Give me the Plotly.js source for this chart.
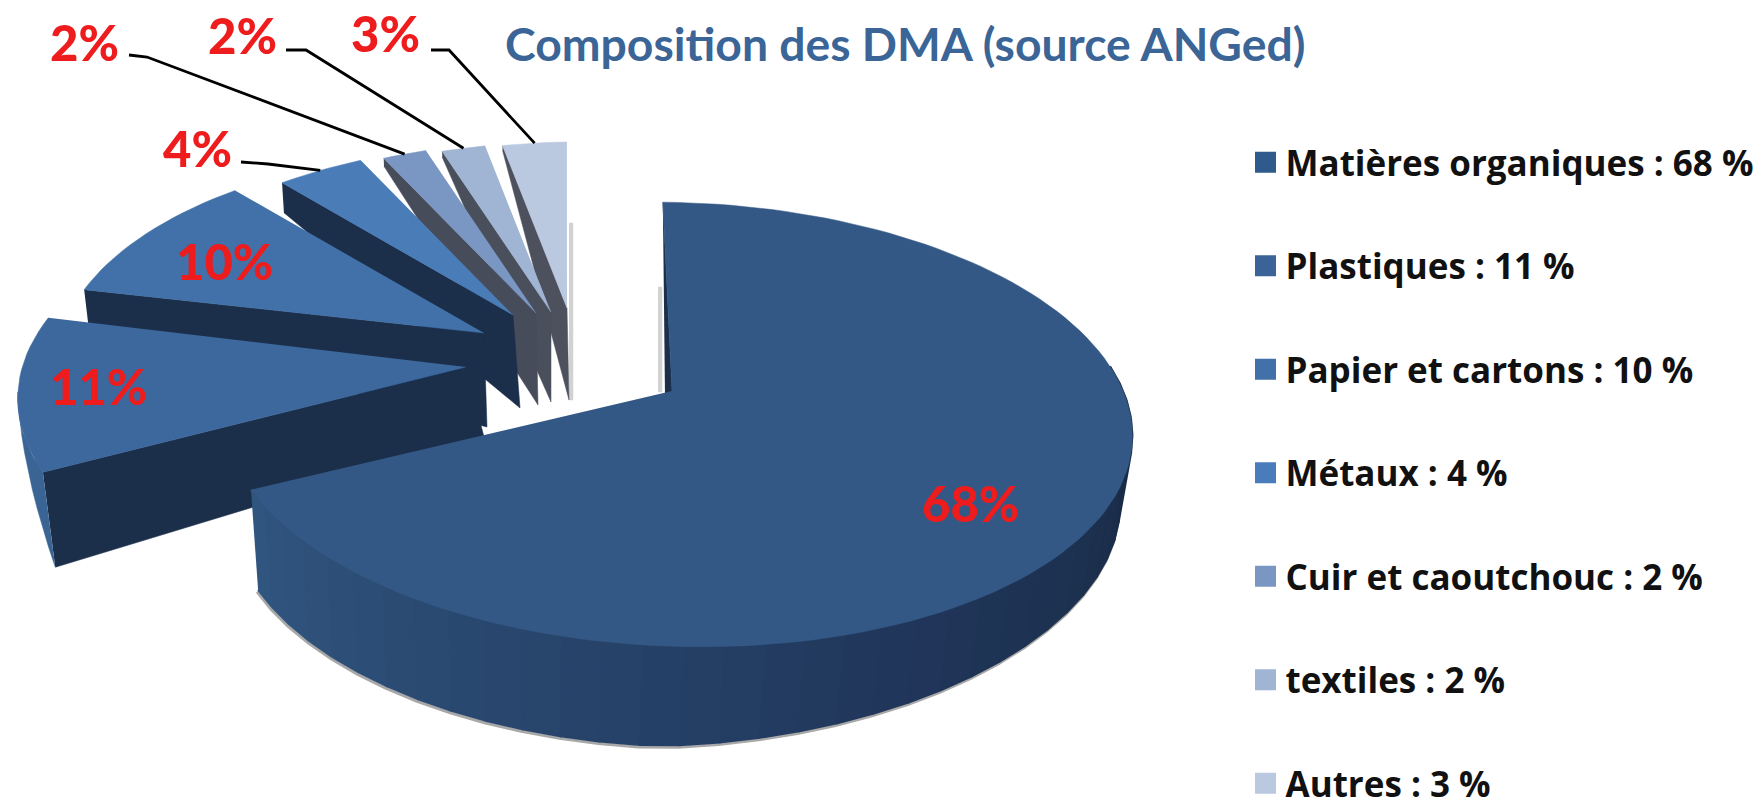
<!DOCTYPE html>
<html>
<head>
<meta charset="utf-8">
<script src="https://cdn.plot.ly/plotly-3.0.1.min.js"></script>
<style>html,body{margin:0;padding:0;background:#fff}#chart{width:1762px;height:800px}</style>
</head>
<body>
<div id="chart"></div>
<script>
// ---- data ----
const categories = ['Matières organiques', 'Plastiques', 'Papier et cartons', 'Métaux', 'Cuir et caoutchouc', 'textiles', 'Autres'];
const values = [68, 11, 10, 4, 2, 2, 3];
const faceColors = ['#345885', '#3c689d', '#4171a8', '#4a7cb8', '#7a97c3', '#a0b4d4', '#bac8e0'];
const legendColors = ['#2f5a8c', '#3a6398', '#4270a8', '#4a7cbc', '#7a97c3', '#a0b4d4', '#bac8e0'];
const wallColors = ['#1b2f4b', '#1b2f4b', '#1b2f4b', '#1b2f4b', '#474c5a', '#4a4f5c', '#4d515e'];
const titleText = 'Composition des DMA (source ANGed)';

// ---- presentation of the exploded 3D pie ----
const anchors = [[663,393],[466,367],[484,333],[513,315],[536,313],[551,312],[567,308]];
const scales = [1, 1.02, 0.97, 0.9, 0.9, 0.89, 0.87];
const tilts = [0, 1, 0, 0, 0, 0, 0];
const shears = [0.025, 0, 0, 0, 0, 0, 0];
const wallOuter = [0, 95, 35, 30, 8, 6, 5];
const wallInner = [[-7,4],[18,70],[3,94],[7,93],[2,92],[0,90],[2,92]];
const labelPos = [[970,503],[98,386],[224,261],[197,148],[84,42],[242,35],[385,33]];
const leaders = {3:[[241,162],[268,164]], 4:[[129,55],[147,57]], 5:[[286,50],[306,50]], 6:[[431,50],[449,50]]};
const startDeg = -2.2, k = 0.14, A = 217.7, Rx = 450, Cx = 678;

const rad = d => d * Math.PI / 180;
function proj(deg, i) {
  const X = Math.sin(rad(deg)), Y = Math.cos(rad(deg)), d = 1 + k * Y;
  const dx = Cx + Rx * X / d - 663, dy = -A * Y / d + shears[i] * (Cx + Rx * X / d - 663);
  return [anchors[i][0] + scales[i] * dx, anchors[i][1] + scales[i] * dy];
}
function extrude(p, t) { return [p[0] + t * (500 - p[0]) / 3500, p[1] + t]; }
function poly(pts, color, extra) {
  return Object.assign({
    type: 'scatter', mode: 'lines', x: pts.map(p => p[0]), y: pts.map(p => p[1]),
    fill: 'toself', fillcolor: color, line: {color: color, width: 0.5},
    hoverinfo: 'skip', showlegend: false
  }, extra || {});
}
function mix(a, b, f) {
  const h = s => [1,3,5].map(j => parseInt(s.substr(j,2),16));
  const ca = h(a), cb = h(b);
  return 'rgb(' + ca.map((c,j) => Math.round(c + (cb[j]-c)*f)).join(',') + ')';
}

// slice angles come from the values
const total = values.reduce((a,b) => a+b, 0);
let acc = startDeg;
const spans = values.map(v => { const s = acc; acc += v / total * 360; return [s, acc]; });
const arc = (i, a0, a1) => {
  const n = Math.max(4, Math.ceil(Math.abs(a1 - a0) / 2)), out = [];
  for (let j = 0; j <= n; j++) out.push(proj(a0 + (a1 - a0) * j / n + tilts[i], i));
  return out;
};

const traces = [];
// faint shadows behind the wedges
traces.push(poly([[569,223],[573,223],[573,400],[569,400]], '#d2d2d2'));
traces.push(poly([[658,287],[662,287],[662,392],[658,392]], '#d2d2d2'));

// wedges, drawn from the back to the front
for (let i = values.length - 1; i >= 0; i--) {
  const [s, e] = spans[i];
  const a = anchors[i];
  const corner = proj(s + tilts[i], i);
  if (i > 0) {
    const tOut = wallOuter[i];
    traces.push(poly([corner, a, [a[0]+wallInner[i][0], a[1]+wallInner[i][1]], extrude(corner, tOut)], wallColors[i]));
    if (i === 1) {
      // visible sliver of the rim at the far left
      const rim = arc(i, s, s + 20);
      const low = rim.map((p, j) => extrude(p, tOut * Math.pow(1 - j / (rim.length - 1), 1.3)));
      traces.push(poly(rim.concat(low.reverse()), '#3a6494'));
    }
    traces.push(poly([a].concat(arc(i, s, e)), faceColors[i]));
  } else {
    // main wedge: inner wall, then shaded rim, then top face
    const top = proj(s, 0);
    traces.push(poly([top, [a[0]+9, a[1]-2], [a[0]+wallInner[0][0]+9, a[1]+wallInner[0][1]]], wallColors[0]));
    const thick = p => p[0] <= 663 ? 100 : 100 - 30 * (p[0] - 663) / 468;
    const rim0 = s + 82, rimN = 36;
    const rimPts = [];
    for (let j = 0; j <= rimN; j++) rimPts.push(proj(e + (rim0 - e) * j / rimN, 0));
    const bottom = rimPts.map(p => extrude(p, thick(p)));
    traces.push({type:'scatter', mode:'lines', x: bottom.map(p=>p[0]-1), y: bottom.map(p=>p[1]+2),
      line:{color:'#a8a8a8', width:3}, hoverinfo:'skip', showlegend:false});
    for (let j = 0; j < rimN; j++) {
      const f = j / (rimN - 1);
      const col = f < 0.55 ? mix('#30557f', '#20365a', f / 0.55) : mix('#20365a', '#172840', (f - 0.55) / 0.45);
      traces.push(poly([rimPts[j], rimPts[j+1], bottom[j+1], bottom[j]], col, {line:{color:col, width:2}}));
    }
    traces.push(poly([[a[0]+9, a[1]-2]].concat(arc(0, s, e)), faceColors[0], {name: categories[0]}));
  }
}

// leader lines from the labels to the middle of each outer arc
Object.keys(leaders).forEach(key => {
  const i = +key;
  const end = proj((spans[i][0] + spans[i][1]) / 2, i);
  const pts = leaders[key].concat([end]);
  traces.push({type:'scatter', mode:'lines', x: pts.map(p=>p[0]), y: pts.map(p=>p[1]),
    line:{color:'#000000', width:2.8}, hoverinfo:'skip', showlegend:false});
});

// legend entries
categories.forEach((c, i) => {
  traces.push({type:'scatter', mode:'markers', x:[null], y:[null],
    name: c + ' : ' + values[i] + ' %', legendgroup: 'g' + i, showlegend: true,
    marker:{symbol:'square', size:16, color:legendColors[i], line:{color:legendColors[i], width:5}}});
});

const annotations = values.map((v, i) => ({
  x: labelPos[i][0], y: labelPos[i][1], xref:'x', yref:'y', showarrow:false,
  text: v + '%', font:{family:'Lato, sans-serif', size:49, color:'#ee1c1c', weight:900},
  xanchor:'center', yanchor:'middle'
}));

const layout = {
  width: 1762, height: 800,
  margin: {l:0, r:0, t:0, b:0, autoexpand:false},
  paper_bgcolor:'#ffffff', plot_bgcolor:'#ffffff',
  title: {text: titleText, x: 505/1762, xanchor:'left', xref:'paper', y: 1-45/800, yanchor:'middle',
    font:{family:'Lato, sans-serif', size:46.3, color:'#3a6596', weight:700}},
  xaxis: {range:[0,1762], visible:false, fixedrange:true},
  yaxis: {range:[800,0], visible:false, fixedrange:true},
  annotations: annotations,
  showlegend: true,
  legend: {x: 1245.5/1762, xanchor:'left', y: 1-133/800, yanchor:'top', traceorder:'grouped',
    tracegroupgap: 55, bgcolor:'rgba(0,0,0,0)', maxheight: 800,
    font:{family:'Open Sans, sans-serif', size:35, color:'#111111', weight:700}},
  hovermode:false
};
Plotly.newPlot('chart', traces, layout, {displayModeBar:false, staticPlot:true});
</script>
</body>
</html>
